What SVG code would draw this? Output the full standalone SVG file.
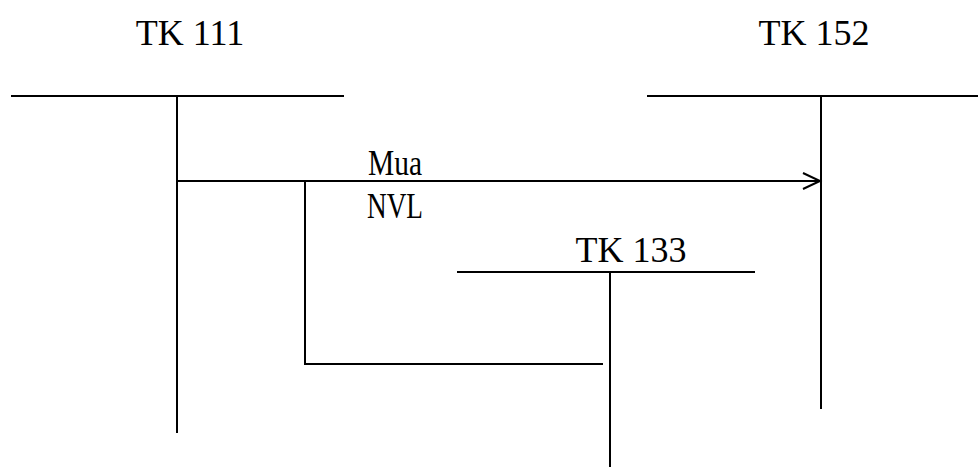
<svg xmlns="http://www.w3.org/2000/svg" width="978" height="472" viewBox="0 0 978 472">
<style>
.ln{stroke:#000;stroke-width:2;fill:none}
.t{font-family:'Liberation Serif','Times New Roman',Times,serif;font-size:36px;fill:#000;text-anchor:middle}
</style>
<defs>
<marker id="arr" markerUnits="userSpaceOnUse" markerWidth="24" markerHeight="20" refX="18" refY="9" orient="auto" viewBox="0 0 24 20">
<path d="M1,1 L18,9 L1,17" stroke="#000" stroke-width="2" fill="none"/>
</marker>
</defs>
<rect width="978" height="472" fill="#fff"/>
<g id="tk111">
<text class="t" font-family="Liberation Serif, serif" x="190" y="45">TK 111</text>
<line class="ln" x1="11" y1="96" x2="344" y2="96"/>
<line class="ln" x1="177" y1="96" x2="177" y2="433"/>
</g>
<g id="tk152">
<text class="t" font-family="Liberation Serif, serif" x="814" y="45">TK 152</text>
<line class="ln" x1="647" y1="96" x2="978" y2="96"/>
<line class="ln" x1="821" y1="96" x2="821" y2="409"/>
</g>
<g id="tk133">
<text class="t" font-family="Liberation Serif, serif" x="631" y="262">TK 133</text>
<line class="ln" x1="457" y1="272" x2="755" y2="272"/>
<line class="ln" x1="610" y1="272" x2="610" y2="467"/>
</g>
<g id="connectors">
<line class="ln" x1="177" y1="181" x2="820" y2="181" marker-end="url(#arr)"/>
<polyline class="ln" points="305,181 305,364 603,364"/>
<text class="t" font-family="Liberation Serif, serif" x="395" y="175" textLength="54" lengthAdjust="spacingAndGlyphs">Mua</text>
<text class="t" font-family="Liberation Serif, serif" x="395" y="218" textLength="56" lengthAdjust="spacingAndGlyphs">NVL</text>
</g>
</svg>
